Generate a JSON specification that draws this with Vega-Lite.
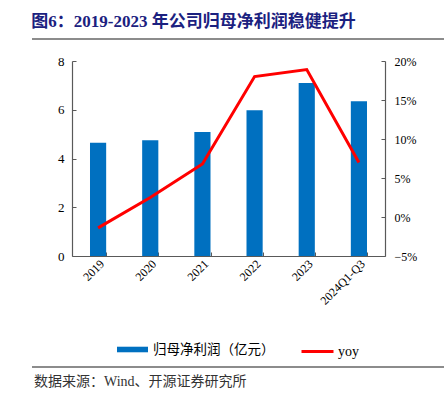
{
  "$schema": "https://vega.github.io/schema/vega-lite/v6.json",
  "padding": {"left": 31, "top": 13, "right": 5, "bottom": 0},
  "width": 313,
  "height": 195,
  "title": {
    "text": "图6：2019-2023 年公司归母净利润稳健提升",
    "orient": "top",
    "anchor": "start",
    "offset": 7,
    "baseline": "top",
    "font": "Liberation Serif, Noto Sans CJK SC",
    "fontSize": 17,
    "fontWeight": "bold",
    "color": "#1B2180"
  },
  "config": {
    "view": {"stroke": null},
    "font": "Liberation Serif, Noto Sans CJK SC",
    "legend": {"padding": 0}
  },
  "layer": [
    {
      "data": {
        "values": [
          {"year": "2019", "profit": 4.65, "yoy": -0.014},
          {"year": "2020", "profit": 4.75, "yoy": 0.025},
          {"year": "2021", "profit": 5.09, "yoy": 0.068},
          {"year": "2022", "profit": 5.98, "yoy": 0.180},
          {"year": "2023", "profit": 7.10, "yoy": 0.189},
          {"year": "2024Q1-Q3", "profit": 6.35, "yoy": 0.070}
        ]
      },
      "encoding": {
        "x": {
          "field": "year",
          "type": "ordinal",
          "sort": null,
          "scale": {"paddingInner": 0.69, "paddingOuter": 0.345},
          "axis": {
            "title": null,
            "labelAngle": -45,
            "labelFont": "Liberation Serif",
            "labelFontSize": 12,
            "labelColor": "#000000",
            "labelPadding": 6,
            "tickBand": "extent",
            "tickSize": -4,
            "tickColor": "#595959",
            "domainColor": "#595959",
            "domainWidth": 1.2
          }
        }
      },
      "layer": [
        {
          "mark": {"type": "bar", "color": "#0070C0"},
          "encoding": {
            "y": {
              "field": "profit",
              "type": "quantitative",
              "scale": {"domain": [0, 8], "nice": false},
              "axis": {
                "title": null,
                "values": [0, 2, 4, 6, 8],
                "grid": false,
                "labelFont": "Liberation Serif",
                "labelFontSize": 13,
                "labelColor": "#000000",
                "labelPadding": 12,
                "tickSize": -4,
                "tickColor": "#595959",
                "domainColor": "#595959",
                "domainWidth": 1.2
              }
            },
            "fill": {
              "datum": "归母净利润（亿元）",
              "scale": {"range": ["#0070C0"]},
              "legend": {
                "title": null,
                "orient": "none",
                "legendX": 45,
                "legendY": 273,
                "symbolType": "M-1,-0.18H1V0.18H-1Z",
                "symbolSize": 961,
                "symbolStrokeWidth": 0,
                "labelFont": "Noto Sans CJK SC",
                "labelFontSize": 13.5,
                "labelColor": "#000000",
                "labelOffset": 5
              }
            }
          }
        },
        {
          "mark": {"type": "line", "color": "#FF0000", "strokeWidth": 3},
          "encoding": {
            "y": {
              "field": "yoy",
              "type": "quantitative",
              "scale": {"domain": [-0.05, 0.2], "nice": false},
              "axis": {
                "orient": "right",
                "title": null,
                "values": [-0.05, 0, 0.05, 0.1, 0.15, 0.2],
                "format": ".0%",
                "grid": false,
                "labelFont": "Liberation Serif",
                "labelFontSize": 12,
                "labelColor": "#000000",
                "labelPadding": 13,
                "tickSize": -4,
                "tickColor": "#595959",
                "domainColor": "#595959",
                "domainWidth": 1.2
              }
            },
            "stroke": {
              "datum": "yoy",
              "scale": {"range": ["#FF0000"]},
              "legend": {
                "title": null,
                "orient": "none",
                "legendX": 228,
                "legendY": 273,
                "symbolType": "stroke",
                "symbolSize": 1024,
                "symbolStrokeWidth": 3,
                "labelFont": "Liberation Serif",
                "labelFontSize": 14,
                "labelColor": "#000000",
                "labelOffset": 3
              }
            }
          }
        }
      ],
      "resolve": {"scale": {"y": "independent", "fill": "independent", "stroke": "independent"}}
    },
    {
      "data": {"values": [{"rule": "top"}]},
      "mark": {"type": "rule", "color": "#666666", "strokeWidth": 1.5},
      "encoding": {
        "x": {"datum": -0.1278, "type": "quantitative", "scale": {"domain": [0, 1]}, "axis": null},
        "x2": {"datum": 1.1885},
        "y": {"datum": 1.1128, "type": "quantitative", "scale": {"domain": [0, 1]}, "axis": null}
      }
    },
    {
      "data": {"values": [{"rule": "bottom"}]},
      "mark": {"type": "rule", "color": "#666666", "strokeWidth": 1.5},
      "encoding": {
        "x": {"datum": -0.1278, "type": "quantitative", "scale": {"domain": [0, 1]}, "axis": null},
        "x2": {"datum": 1.1885},
        "y": {"datum": -0.5692, "type": "quantitative", "scale": {"domain": [0, 1]}, "axis": null}
      }
    },
    {
      "data": {"values": [{"source": "数据来源：Wind、开源证券研究所"}]},
      "mark": {
        "type": "text",
        "align": "left",
        "baseline": "top",
        "font": "Liberation Serif, Noto Sans CJK SC",
        "fontSize": 14,
        "color": "#333333"
      },
      "encoding": {
        "x": {"datum": -0.1214, "type": "quantitative", "scale": {"domain": [0, 1]}, "axis": null},
        "y": {"datum": -0.6103, "type": "quantitative", "scale": {"domain": [0, 1]}, "axis": null},
        "text": {"field": "source"}
      }
    }
  ],
  "resolve": {"scale": {"x": "independent", "y": "independent"}}
}
